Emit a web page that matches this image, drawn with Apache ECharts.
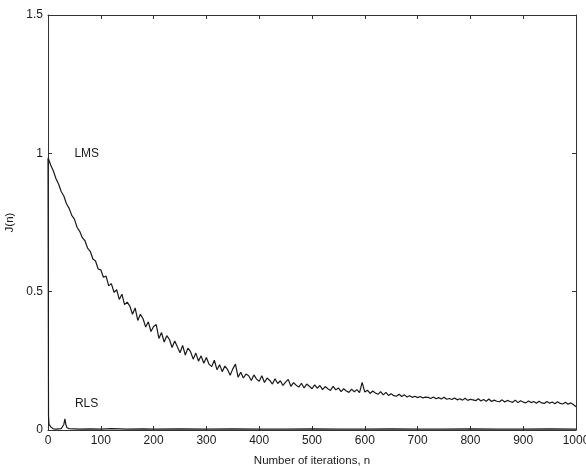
<!DOCTYPE html>
<html>
<head>
<meta charset="utf-8">
<script src="https://cdn.jsdelivr.net/npm/echarts@6/dist/echarts.min.js"></script>
<style>
html,body{margin:0;padding:0;background:#fff;}
#chart{width:586px;height:466px;}
</style>
</head>
<body>
<div id="chart"></div>
<script>
// LMS learning curve, sampled every 5 iterations (n = 0, 5, ..., 1000)
var lmsStep = 5;
var lmsJ = [
0.985,0.958,0.937,0.909,0.889,0.862,0.846,0.818,0.801,0.776,
0.762,0.733,0.718,0.695,0.684,0.657,0.646,0.618,0.611,0.582,
0.579,0.552,0.556,0.521,0.529,0.498,0.507,0.472,0.491,0.453,
0.462,0.448,0.418,0.441,0.396,0.418,0.402,0.372,0.391,0.356,
0.374,0.381,0.331,0.352,0.318,0.341,0.327,0.298,0.322,0.301,
0.279,0.306,0.271,0.296,0.283,0.256,0.278,0.249,0.268,0.241,
0.262,0.238,0.229,0.252,0.218,0.236,0.211,0.231,0.219,0.198,
0.221,0.238,0.191,0.209,0.188,0.202,0.196,0.179,0.199,0.184,
0.176,0.196,0.172,0.188,0.179,0.166,0.185,0.168,0.178,0.161,
0.173,0.183,0.158,0.171,0.162,0.155,0.169,0.152,0.166,0.158,
0.149,0.163,0.151,0.161,0.146,0.157,0.149,0.143,0.158,0.145,
0.152,0.139,0.149,0.141,0.136,0.148,0.138,0.146,0.135,0.172,
0.137,0.144,0.132,0.141,0.134,0.129,0.139,0.127,0.136,0.125,
0.131,0.124,0.122,0.129,0.121,0.127,0.119,0.124,0.118,0.122,
0.117,0.121,0.116,0.119,0.118,0.114,0.119,0.113,0.117,0.112,
0.118,0.111,0.114,0.110,0.116,0.109,0.113,0.108,0.115,0.107,
0.111,0.109,0.106,0.113,0.105,0.110,0.104,0.112,0.103,0.108,
0.104,0.102,0.109,0.101,0.107,0.103,0.100,0.108,0.099,0.106,
0.101,0.098,0.105,0.099,0.103,0.097,0.104,0.098,0.096,0.103,
0.097,0.101,0.095,0.102,0.096,0.094,0.100,0.093,0.098,0.092,
0.084
];
// RLS learning curve
var rlsN = [0,1,2,3,5,7,10,15,20,25,28,30,32,34,36,40,50,60,80,100,120,150,180,200,250,300,350,400,450,500,550,600,650,700,750,800,850,900,950,1000];
var rlsJ = [0.98,0.05,0.02,0.015,0.012,0.006,0.004,0.003,0.004,0.005,0.008,0.02,0.04,0.018,0.008,0.005,0.004,0.003,0.004,0.003,0.005,0.003,0.004,0.003,0.004,0.003,0.004,0.003,0.003,0.004,0.003,0.003,0.004,0.003,0.003,0.004,0.003,0.003,0.004,0.003];

var xTicks = {min:0, max:1000, interval:100};
var yTicks = {min:0, max:1.5, interval:0.5};
var labels = [
  {text:'LMS', n:50, j:1.0},
  {text:'RLS', n:51, j:0.095}
];

var lmsData = lmsJ.map(function(v,i){return [i*lmsStep, v];});
var rlsData = rlsN.map(function(n,i){return [n, rlsJ[i]];});

var font = 'Liberation Sans, Arial, Helvetica, sans-serif';
var ink = '#1a1a1a';

function frameAxis(extra){
  var a = {
    type:'value',
    axisLine:{show:true, onZero:false, lineStyle:{color:'#333', width:1}},
    axisTick:{show:true, inside:true, length:4, lineStyle:{color:'#333'}},
    splitLine:{show:false},
    axisLabel:{show:true, color:ink, fontFamily:font, fontSize:12}
  };
  for (var k in extra) a[k] = extra[k];
  return a;
}

var chart = echarts.init(document.getElementById('chart'), null, {renderer:'canvas'});
chart.setOption({
  animation:false,
  backgroundColor:'#fff',
  grid:{left:48, right:10, top:15, bottom:36, containLabel:false, outerBoundsMode:'none'},
  xAxis:[
    frameAxis({min:xTicks.min, max:xTicks.max, interval:xTicks.interval, position:'bottom',
      name:'Number of iterations, n', nameLocation:'middle', nameGap:25,
      nameTextStyle:{color:ink, fontFamily:font, fontSize:11.5},
      axisLabel:{color:ink, fontFamily:font, fontSize:12, margin:5,
        formatter:function(v){return String(v);}}}),
    frameAxis({min:xTicks.min, max:xTicks.max, interval:xTicks.interval, position:'top',
      axisLabel:{show:false}})
  ],
  yAxis:[
    frameAxis({min:yTicks.min, max:yTicks.max, interval:yTicks.interval, position:'left',
      name:'J(n)', nameLocation:'middle', nameGap:28,
      nameTextStyle:{color:ink, fontFamily:font, fontSize:11.5},
      axisLabel:{color:ink, fontFamily:font, fontSize:12, margin:5}}),
    frameAxis({min:yTicks.min, max:yTicks.max, interval:yTicks.interval, position:'right',
      axisLabel:{show:false}})
  ],
  series:[
    {
      type:'line', name:'LMS', data:lmsData, showSymbol:false, symbol:'none',
      lineStyle:{color:ink, width:1.2}, z:3,
      markPoint:{
        symbol:'circle', symbolSize:0, silent:true,
        data:[{coord:[labels[0].n, labels[0].j], label:{show:true, formatter:labels[0].text, position:'right', distance:0, color:ink, fontFamily:font, fontSize:12}}]
      }
    },
    {
      type:'line', name:'RLS', data:rlsData, showSymbol:false, symbol:'none',
      lineStyle:{color:ink, width:1.2}, z:3,
      markPoint:{
        symbol:'circle', symbolSize:0, silent:true,
        data:[{coord:[labels[1].n, labels[1].j], label:{show:true, formatter:labels[1].text, position:'right', distance:0, color:ink, fontFamily:font, fontSize:12}}]
      }
    }
  ]
});
</script>
</body>
</html>
